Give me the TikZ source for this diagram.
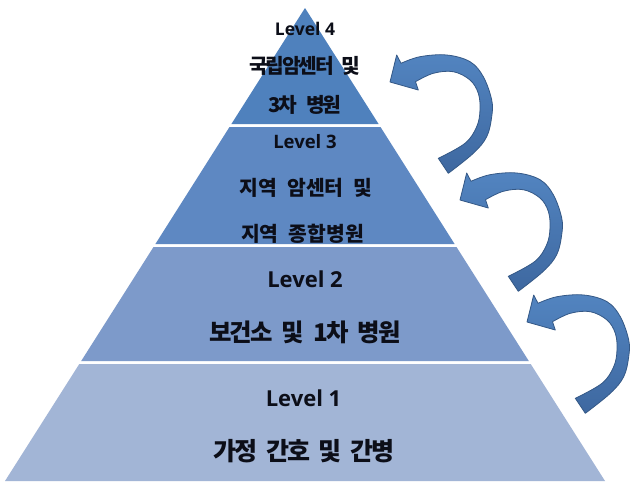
\documentclass[tikz,border=0pt]{standalone}
\usepackage{fontspec}
\newfontfamily\krA{Noto Sans CJK KR}[LetterSpace=-8]
\newfontfamily\krB{Noto Sans CJK KR}[LetterSpace=-10]
\newfontfamily\krC{Noto Sans CJK KR}
\newfontfamily\latfont{Open Sans}
\definecolor{lvfour}{RGB}{79,129,189}
\definecolor{lvthree}{RGB}{94,136,194}
\definecolor{lvtwo}{RGB}{125,154,202}
\definecolor{lvone}{RGB}{162,181,214}
\definecolor{arrtop}{RGB}{82,132,192}
\definecolor{arrbot}{RGB}{62,104,160}
\definecolor{arrline}{RGB}{52,88,134}
\definecolor{txt}{RGB}{12,14,24}
\tikzset{
  latlbl/.style={inner sep=0pt, anchor=base, text=txt, font=\latfont\bfseries\fontsize{#1}{#1}\selectfont},
  krlbl/.style={inner sep=0pt, text=txt},
  curvearrow/.style={draw=arrline, line width=0.8pt, top color=arrtop, bottom color=arrbot, line join=round},
}
\begin{document}
\begin{tikzpicture}[x=1pt,y=-1pt]
\useasboundingbox (0,0) rectangle (631,485);
\fill[white] (0,0) rectangle (631,485);
% pyramid layers
\fill[lvfour] (305,8) -- (378.6,124) -- (231.4,124) -- cycle;
\fill[lvthree] (229.5,127) -- (380.5,127) -- (454.6,244) -- (155.4,244) -- cycle;
\fill[lvtwo] (153.5,247) -- (456.5,247) -- (528.8,361) -- (81.2,361) -- cycle;
\fill[lvone] (79.3,364) -- (530.7,364) -- (605,481) -- (5,481) -- cycle;
% curved arrows
\foreach \dx/\dy in {0/0, 70/118, 137/240}{
\begin{scope}[shift={(\dx,\dy)}]
\path[curvearrow] (390,82) -- (396.7,55) -- (401,63.3)
  -- plot[smooth, tension=0.6] coordinates {(401,63.3) (420,56.7) (446.7,55) (470,61.7) (483.3,76.7) (491.7,100) (491.7,116.7) (486.7,136.7) (473.3,153.3) (448.3,173.3)}
  -- (438.3,158.3)
  -- plot[smooth, tension=0.6] coordinates {(438.3,158.3) (465,143.3) (476.7,126.7) (480,110) (478.3,93.3) (470,80) (453.3,71.7) (433.3,73.3) (415.5,81.7)}
  -- (418.3,90) -- cycle;
\end{scope}}
% labels
\node[latlbl=17.5] (l4) at (305,35) {Level 4};
\node[krlbl, font=\krB\bfseries\fontsize{20.3}{20.3}\selectfont] (l4a) at (304.5,66) {\spaceskip=7pt\relax 국립암센터 및};
\node[krlbl, font=\krB\bfseries\fontsize{20.3}{20.3}\selectfont] (l4b) at (305,104.5) {\spaceskip=8.5pt\relax 3차 병원};
\node[latlbl=18.5] (l3) at (305,148) {Level 3};
\node[krlbl, font=\krC\bfseries\fontsize{20.4}{20.4}\selectfont] (l3a) at (306,187.5) {\spaceskip=10pt\relax 지역 암센터 및};
\node[krlbl, font=\krC\bfseries\fontsize{20.4}{20.4}\selectfont] (l3b) at (302.5,233.5) {\spaceskip=10pt\relax 지역 종합병원};
\node[latlbl=22] (l2) at (305,287) {Level 2};
\node[krlbl, font=\krA\bfseries\fontsize{24.4}{24.4}\selectfont] (l2a) at (305,332) {\spaceskip=9pt\relax 보건소 및 1차 병원};
\node[latlbl=22] (l1) at (303.5,406) {Level 1};
\node[krlbl, font=\krA\bfseries\fontsize{25}{25}\selectfont] (l1a) at (304,451) {\spaceskip=8.5pt\relax 가정 간호 및 간병};
\end{tikzpicture}
\end{document}
